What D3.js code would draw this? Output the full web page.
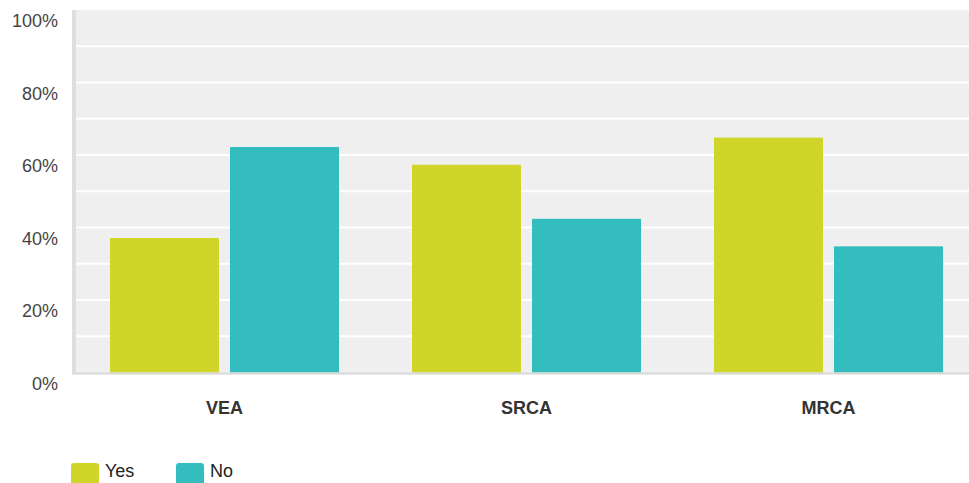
<!DOCTYPE html>
<html>
<head>
<meta charset="utf-8">
<script src="https://cdn.jsdelivr.net/npm/d3@7"></script>
<style>
  body { margin: 0; background: #fff; font-family: "Liberation Sans", Arial, sans-serif; }
</style>
</head>
<body>
<script>
var categories = ["VEA", "SRCA", "MRCA"],
    seriesNames = ["Yes", "No"],
    yesValues = [37.1, 57.3, 64.8],
    noValues = [62.2, 42.4, 34.8],
    yTicks = [0, 20, 40, 60, 80, 100],
    gridTicks = [10, 20, 30, 40, 50, 60, 70, 80, 90];

var colors = { "Yes": "#d0d629", "No": "#34bdbf" };

var W = 969, H = 483;
var plot = { left: 76, top: 10, right: 979.5, bottom: 372.5 };

var data = categories.map(function(c, i) {
  return { cat: c, Yes: yesValues[i], No: noValues[i] };
});

var svg = d3.select("body").append("svg")
    .attr("width", W)
    .attr("height", H);

var x0 = d3.scaleBand().domain(categories).range([73.5, plot.right]).padding(0);
var x1 = d3.scaleBand().domain(seriesNames).range([36.5, 265.5]).paddingInner(0.0917).paddingOuter(0);
var y = d3.scaleLinear().domain([0, 100]).range([plot.bottom, plot.top]);

// plot background
svg.append("rect")
    .attr("x", plot.left).attr("y", plot.top)
    .attr("width", W - plot.left).attr("height", plot.bottom - plot.top)
    .attr("fill", "#efefef");

// gridlines every 10%
svg.append("g").selectAll("line")
    .data(gridTicks)
  .enter().append("line")
    .attr("x1", plot.left).attr("x2", W)
    .attr("y1", function(d) { return y(d); })
    .attr("y2", function(d) { return y(d); })
    .attr("stroke", "#fff")
    .attr("stroke-width", 2);

// bars
var groups = svg.append("g").selectAll("g")
    .data(data)
  .enter().append("g")
    .attr("transform", function(d) { return "translate(" + x0(d.cat) + ",0)"; });

groups.selectAll("rect")
    .data(function(d) { return seriesNames.map(function(s) { return { s: s, v: d[s] }; }); })
  .enter().append("rect")
    .attr("x", function(d) { return x1(d.s); })
    .attr("width", x1.bandwidth())
    .attr("y", function(d) { return y(d.v); })
    .attr("height", function(d) { return y(0) - y(d.v); })
    .attr("fill", function(d) { return colors[d.s]; });

// axis lines
svg.append("rect")
    .attr("x", 72).attr("y", plot.top)
    .attr("width", 4).attr("height", plot.bottom - plot.top)
    .attr("fill", "#dedede");
svg.append("line")
    .attr("x1", 72).attr("x2", W)
    .attr("y1", plot.bottom + 1).attr("y2", plot.bottom + 1)
    .attr("stroke", "#d6d6d6")
    .attr("stroke-width", 2);

// y tick labels (sit a little below their gridline)
svg.append("g").selectAll("text")
    .data(yTicks)
  .enter().append("text")
    .attr("x", 58)
    .attr("y", function(d) { return y(d) + 17; })
    .attr("text-anchor", "end")
    .attr("font-size", 18)
    .attr("fill", "#444")
    .text(function(d) { return d + "%"; });

// category labels
svg.append("g").selectAll("text")
    .data(categories)
  .enter().append("text")
    .attr("x", function(d) { return x0(d) + 151; })
    .attr("y", 414)
    .attr("text-anchor", "middle")
    .attr("font-size", 18)
    .attr("font-weight", "bold")
    .attr("fill", "#333")
    .text(String);

// legend
var legend = svg.append("g").selectAll("g")
    .data(seriesNames)
  .enter().append("g")
    .attr("transform", function(d, i) { return "translate(" + (71 + i * 105) + ",463)"; });

legend.append("rect")
    .attr("width", 28).attr("height", 26)
    .attr("rx", 3)
    .attr("fill", function(d) { return colors[d]; });

legend.append("text")
    .attr("x", 34).attr("y", 14)
    .attr("font-size", 18)
    .attr("fill", "#222")
    .text(String);
</script>
</body>
</html>
